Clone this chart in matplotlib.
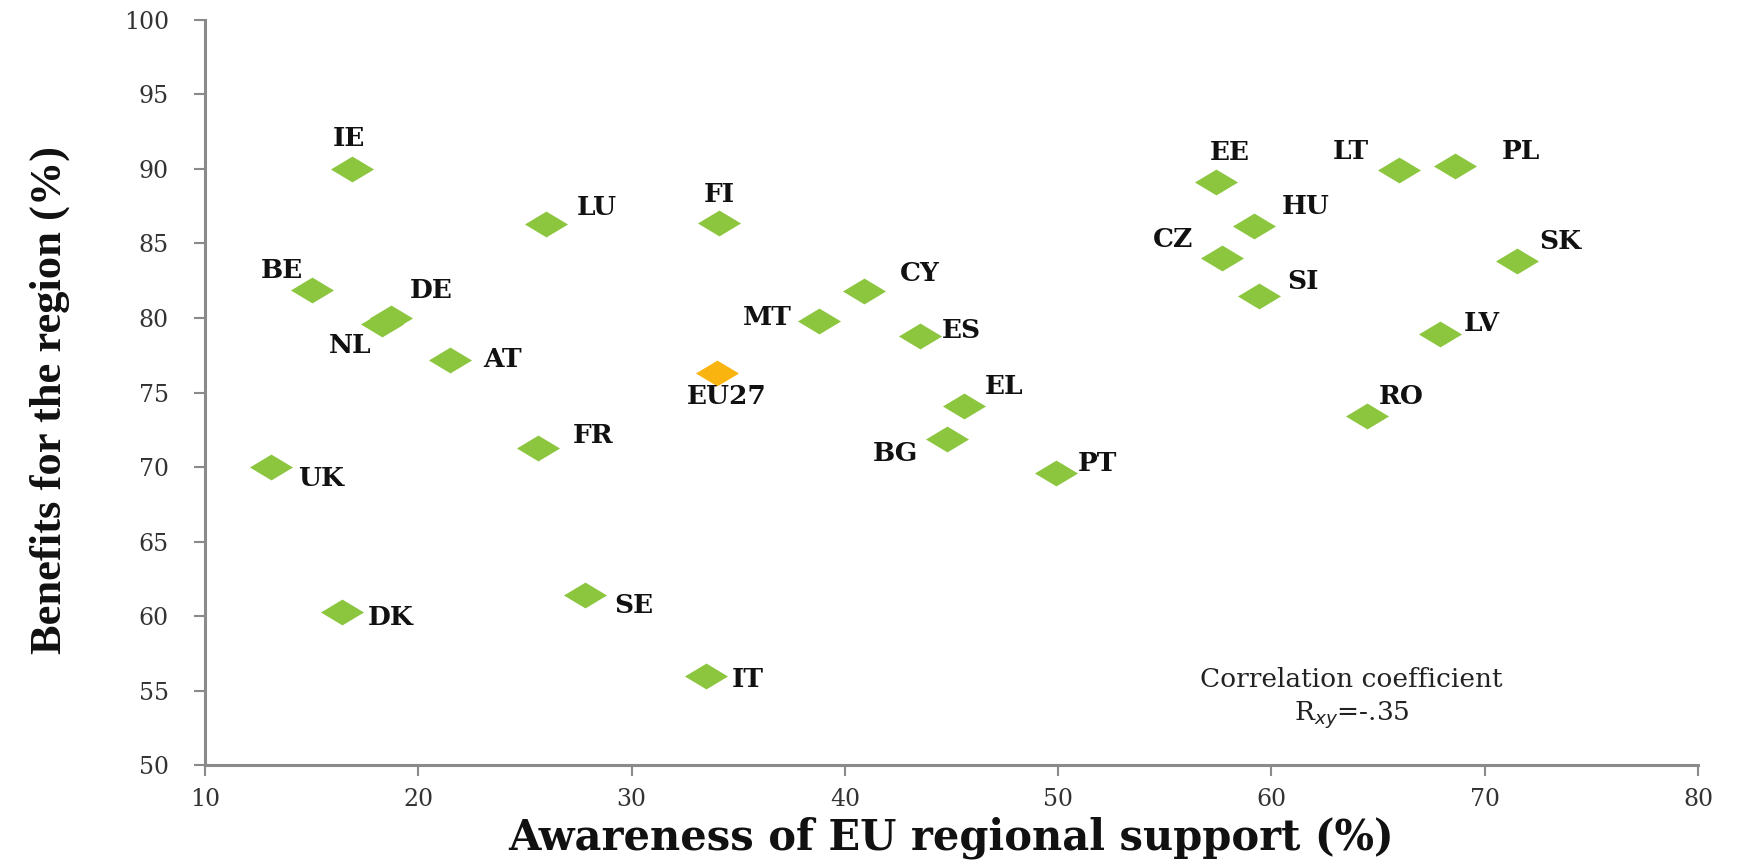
import matplotlib
matplotlib.use("Agg")
import matplotlib.pyplot as plt
from matplotlib.path import Path

# ---- data ----
countries = ["IE", "LU", "FI", "BE", "DE", "NL", "AT", "MT", "CY", "ES", "EL", "BG",
             "FR", "UK", "PT", "SE", "DK", "IT", "EE", "LT", "PL", "HU", "CZ", "SI",
             "SK", "LV", "RO"]
awareness = [16.9, 26.0, 34.1, 15.0, 18.7, 18.3, 21.5, 38.8, 40.9, 43.5, 45.6, 44.8,
             25.6, 13.1, 49.9, 27.8, 16.4, 33.5, 57.4, 66.0, 68.6, 59.2, 57.7, 59.4,
             71.5, 67.9, 64.5]
benefits = [90.0, 86.3, 86.4, 81.9, 80.0, 79.6, 77.2, 79.8, 81.8, 78.8, 74.1, 71.9,
            71.3, 70.0, 69.6, 61.4, 60.3, 56.0, 89.1, 89.9, 90.2, 86.2, 84.0, 81.5,
            83.8, 78.9, 73.4]
eu_label = "EU27"
eu_awareness = 34.0
eu_benefits = 76.3

x_ticks = [10, 20, 30, 40, 50, 60, 70, 80]
y_ticks = [50, 55, 60, 65, 70, 75, 80, 85, 90, 95, 100]

# ---- label offsets (pixels in reduced reference; styling only) ----
offsets = {
    "IE": (-3, -27), "LU": (45, -15), "FI": (0, -25), "BE": (-27, -17),
    "DE": (37, -25), "NL": (-29, 19), "AT": (47, 0), "MT": (-47, -3),
    "CY": (50, -16), "ES": (38, -5), "EL": (36, -18), "BG": (-47, 13),
    "FR": (50, -11), "UK": (45, 10), "PT": (37, -9), "SE": (44, 9),
    "DK": (44, 5), "IT": (37, 3), "EE": (12, -27), "LT": (-44, -17),
    "PL": (59, -13), "HU": (46, -17), "CZ": (-44, -17), "SI": (40, -13),
    "SK": (39, -18), "LV": (38, -10), "RO": (30, -18),
}
eu_offset = (9, 21)

GREEN = "#8CC63F"
ORANGE = "#F9B40F"
diamond = Path([(-1, 0), (0, 0.6), (1, 0), (0, -0.6), (-1, 0)],
               [Path.MOVETO, Path.LINETO, Path.LINETO, Path.LINETO, Path.CLOSEPOLY])

fig = plt.figure(figsize=(17.38, 8.6), dpi=100)
ax = fig.add_axes([0.118, 0.110, 0.859, 0.867])

ax.plot(awareness, benefits, linestyle="none", marker=diamond, markersize=31,
        color=GREEN, markeredgewidth=0, zorder=3)
ax.plot([eu_awareness], [eu_benefits], linestyle="none", marker=diamond,
        markersize=31, color=ORANGE, markeredgewidth=0, zorder=3)

lab_font = dict(family="DejaVu Serif", fontweight="bold", fontsize=19, color="#111111")
k = 0.8
for c, xv, yv in zip(countries, awareness, benefits):
    dx, dy = offsets[c]
    ax.annotate(c, (xv, yv), xytext=(dx * k, -dy * k), textcoords="offset points",
                ha="center", va="center", **lab_font)
ax.annotate(eu_label, (eu_awareness, eu_benefits),
            xytext=(eu_offset[0] * k, -eu_offset[1] * k), textcoords="offset points",
            ha="center", va="center", **lab_font)

ax.set_xlim(10, 80)
ax.set_ylim(50, 100)
ax.set_xticks(x_ticks)
ax.set_yticks(y_ticks)
tick_font = dict(family="DejaVu Serif", fontsize=17, color="#333333")
ax.set_xticklabels([str(v) for v in x_ticks], **tick_font)
ax.set_yticklabels([str(v) for v in y_ticks], **tick_font)
ax.tick_params(axis="y", direction="out", length=8, width=1.5, color="#8a8a8a", pad=18)
ax.tick_params(axis="x", direction="out", length=8, width=1.5, color="#8a8a8a", pad=8)

for s in ["top", "right"]:
    ax.spines[s].set_visible(False)
for s in ["left", "bottom"]:
    ax.spines[s].set_color("#8a8a8a")
    ax.spines[s].set_linewidth(2.2)

ax.set_xlabel("Awareness of EU regional support (%)", family="DejaVu Serif",
              fontweight="bold", fontsize=30, color="#111111")
ax.xaxis.set_label_coords(0.5, -0.097)
ax.xaxis.label.set_va("center")
ax.set_ylabel("Benefits for the region (%)", family="Liberation Serif",
              fontweight="bold", fontsize=32, color="#111111")
ax.yaxis.set_label_coords(-0.104, 0.49)
ax.yaxis.label.set_va("center")

ax.text(0.768, 0.089, "Correlation coefficient\nR$_{xy}$=-.35", transform=ax.transAxes,
        ha="center", va="center", family="DejaVu Serif", fontsize=19,
        color="#222222", linespacing=1.35)

fig.savefig("out.png", dpi=100)
